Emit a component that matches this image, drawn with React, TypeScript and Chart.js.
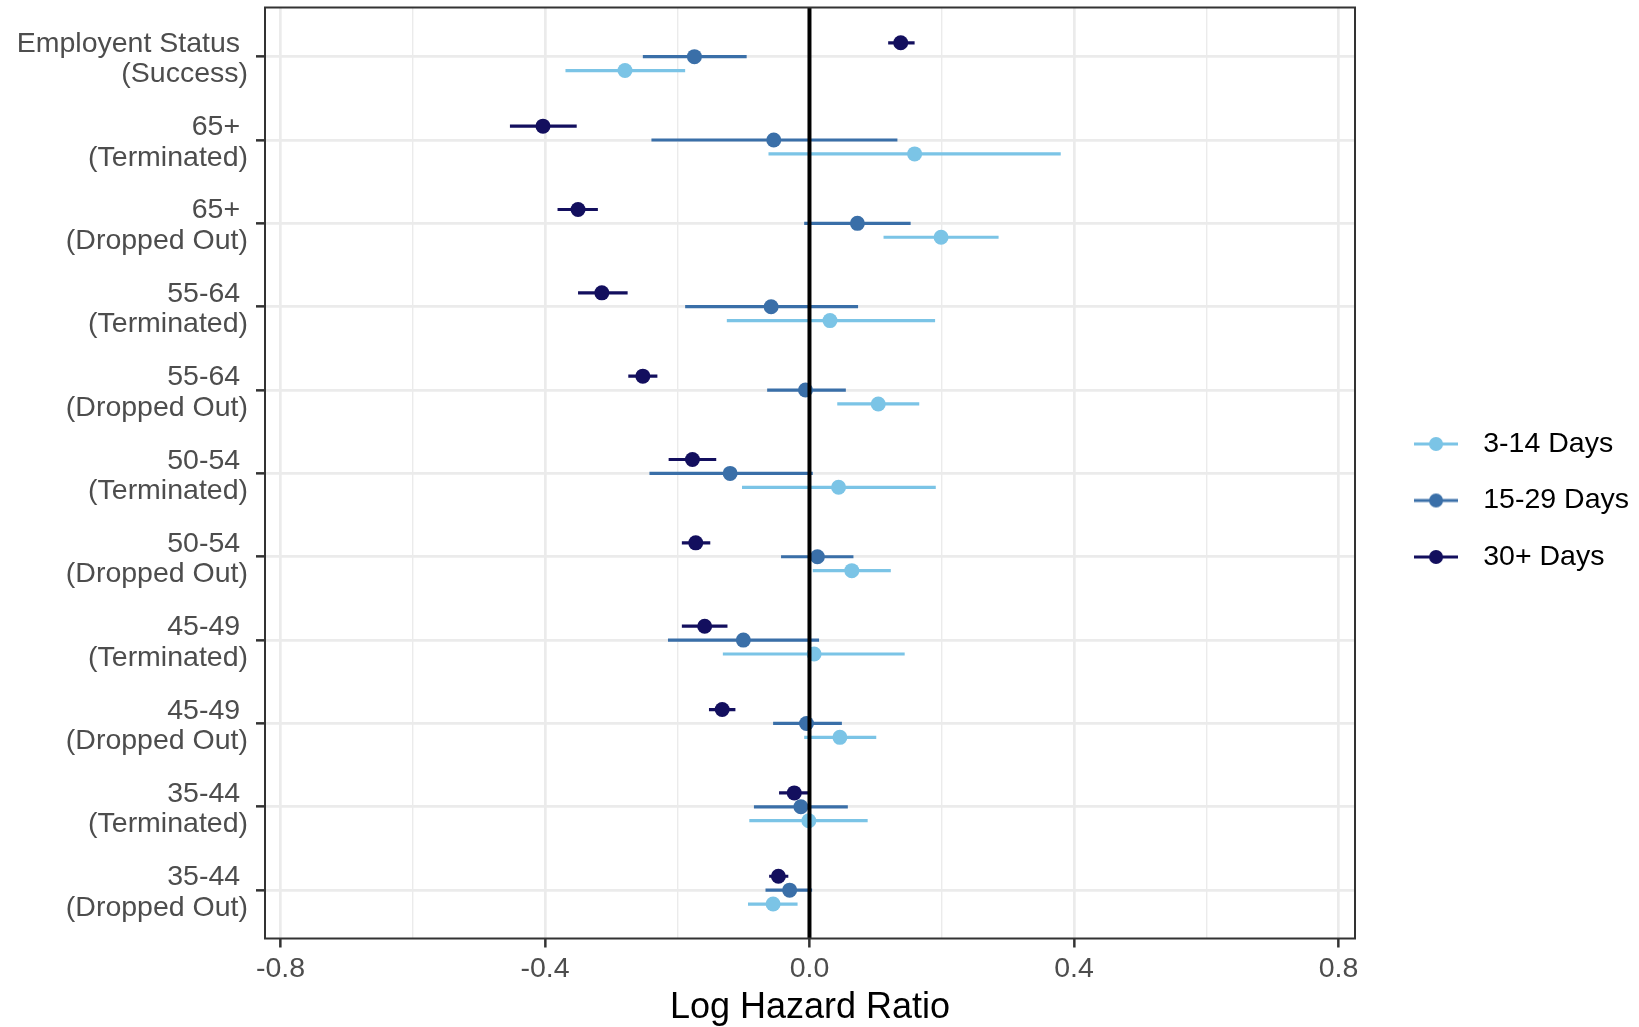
import React, { useEffect, useRef } from 'react';
import { Chart, registerables } from 'chart.js';

Chart.register(...registerables);

// ---- Data ----
const ROW_LABELS: string[][] = [
  ['Employent Status ', '(Success)'],
  ['65+ ', '(Terminated)'],
  ['65+ ', '(Dropped Out)'],
  ['55-64 ', '(Terminated)'],
  ['55-64 ', '(Dropped Out)'],
  ['50-54 ', '(Terminated)'],
  ['50-54 ', '(Dropped Out)'],
  ['45-49 ', '(Terminated)'],
  ['45-49 ', '(Dropped Out)'],
  ['35-44 ', '(Terminated)'],
  ['35-44 ', '(Dropped Out)'],
];

const SERIES_NAMES = ['3-14 Days', '15-29 Days', '30+ Days'];
const SERIES_COLORS = ['#7BC4E6', '#3A6FA8', '#130F5E'];
// vertical dodge (in row units; axis is reversed so + is lower)
const SERIES_DODGE = [0.1667, 0, -0.1667];

const EST_3_14 = [-0.279, 0.159, 0.199, 0.031, 0.104, 0.044, 0.064, 0.007, 0.046, -0.001, -0.055];
const LO_3_14 = [-0.369, -0.062, 0.112, -0.125, 0.042, -0.102, 0.005, -0.131, -0.008, -0.091, -0.093];
const HI_3_14 = [-0.188, 0.380, 0.286, 0.190, 0.166, 0.191, 0.123, 0.144, 0.101, 0.088, -0.018];

const EST_15_29 = [-0.174, -0.054, 0.0725, -0.058, -0.006, -0.120, 0.012, -0.100, -0.0045, -0.013, -0.030];
const LO_15_29 = [-0.252, -0.239, -0.008, -0.188, -0.064, -0.242, -0.043, -0.214, -0.055, -0.084, -0.0665];
const HI_15_29 = [-0.095, 0.133, 0.153, 0.0735, 0.055, 0.005, 0.0665, 0.0145, 0.049, 0.058, 0.004];

const EST_30 = [0.138, -0.403, -0.350, -0.314, -0.252, -0.177, -0.172, -0.1585, -0.132, -0.023, -0.047];
const LO_30 = [0.119, -0.453, -0.381, -0.350, -0.274, -0.213, -0.193, -0.193, -0.152, -0.046, -0.061];
const HI_30 = [0.159, -0.352, -0.320, -0.275, -0.230, -0.141, -0.150, -0.124, -0.112, 0.001, -0.032];

const X_MAJOR_TICKS = [-0.8, -0.4, 0, 0.4, 0.8];
const X_TICK_LABELS = ['-0.8', '-0.4', '0.0', '0.4', '0.8'];
const X_MINOR_TICKS = [-0.6, -0.2, 0.2, 0.6];
const X_MIN = -0.8234;
const X_MAX = 0.825;
const Y_MIN = -0.59;
const Y_MAX = 10.58;
const REF_X = 0;
const X_TITLE = 'Log Hazard Ratio';

const FONT = 'Liberation Sans';

function isMajor(v: number) {
  return X_MAJOR_TICKS.some((t) => Math.abs(t - v) < 1e-9);
}

function legendIcon(color: string) {
  const c = document.createElement('canvas');
  c.width = 44;
  c.height = 16;
  const g = c.getContext('2d')!;
  g.strokeStyle = color;
  g.lineWidth = 3.2;
  g.beginPath();
  g.moveTo(0, 8);
  g.lineTo(44, 8);
  g.stroke();
  g.fillStyle = color;
  g.beginPath();
  g.arc(22, 8, 7, 0, Math.PI * 2);
  g.fill();
  return c;
}

const panelBorder = {
  id: 'panelBorder',
  afterDatasetsDraw(chart: any) {
    const { ctx, chartArea } = chart;
    ctx.save();
    ctx.strokeStyle = '#333333';
    ctx.lineWidth = 2;
    ctx.strokeRect(chartArea.left, chartArea.top, chartArea.right - chartArea.left, chartArea.bottom - chartArea.top);
    ctx.restore();
  },
};

export default function App() {
  const ref = useRef<HTMLCanvasElement>(null);

  useEffect(() => {
    document.body.style.margin = '0';
    const est = [EST_3_14, EST_15_29, EST_30];
    const lo = [LO_3_14, LO_15_29, LO_30];
    const hi = [HI_3_14, HI_15_29, HI_30];

    const errDatasets = SERIES_NAMES.map((name, s) => {
      const data: any[] = [];
      ROW_LABELS.forEach((_, i) => {
        const y = i + SERIES_DODGE[s];
        data.push({ x: lo[s][i], y });
        data.push({ x: hi[s][i], y });
        data.push({ x: null, y: null });
      });
      return {
        type: 'line' as const,
        label: name + ' CI',
        data,
        borderColor: SERIES_COLORS[s],
        borderWidth: 3.2,
        borderCapStyle: 'butt',
        pointRadius: 0,
        pointHoverRadius: 0,
        spanGaps: false,
        tension: 0,
        fill: false,
        order: 2,
      };
    });

    // points: 30+ on top, then 15-29, then 3-14
    const pointDatasets = [2, 1, 0].map((s) => ({
      type: 'scatter' as const,
      label: SERIES_NAMES[s],
      data: ROW_LABELS.map((_, i) => ({ x: est[s][i], y: i + SERIES_DODGE[s] })),
      backgroundColor: SERIES_COLORS[s],
      borderColor: SERIES_COLORS[s],
      pointRadius: 7.5,
      pointHoverRadius: 7.5,
      pointBorderWidth: 0,
      order: 1,
    }));

    const refLine = {
      type: 'line' as const,
      label: 'ref',
      data: [
        { x: REF_X, y: Y_MIN },
        { x: REF_X, y: Y_MAX },
      ],
      borderColor: '#000000',
      borderWidth: 4,
      pointRadius: 0,
      pointHoverRadius: 0,
      order: 0,
    };

    const icons = SERIES_COLORS.map(legendIcon);

    const chart = new Chart(ref.current!, {
      type: 'scatter',
      data: { datasets: [refLine, ...pointDatasets, ...errDatasets] as any },
      plugins: [panelBorder],
      options: {
        responsive: false,
        animation: false,
        devicePixelRatio: 1,
        events: [],
        layout: { padding: { left: 0, right: 0, top: 6, bottom: 32 } },
        plugins: {
          tooltip: { enabled: false },
          legend: {
            position: 'right',
            maxWidth: 264,
            onClick: () => {},
            labels: {
              usePointStyle: true,
              pointStyleWidth: 66,
              boxHeight: 28.5,
              padding: 28,
              color: '#000000',
              font: { family: FONT, size: 28.5 },
              generateLabels: () =>
                SERIES_NAMES.map((name, i) => ({
                  text: name,
                  pointStyle: icons[i] as any,
                  fillStyle: SERIES_COLORS[i],
                  strokeStyle: SERIES_COLORS[i],
                  lineWidth: 0,
                  hidden: false,
                  fontColor: '#000000',
                  datasetIndex: 1 + (2 - i),
                })),
            },
          },
        },
        scales: {
          x: {
            type: 'linear',
            position: 'bottom',
            min: X_MIN,
            max: X_MAX,
            afterBuildTicks: (scale: any) => {
              scale.ticks = [...X_MAJOR_TICKS, ...X_MINOR_TICKS].sort((a, b) => a - b).map((v) => ({ value: v }));
            },
            afterFit: (scale: any) => {
              scale.height = 56.5;
              scale.paddingLeft = 0;
              scale.paddingRight = 0;
            },
            grid: {
              color: '#EBEBEB',
              lineWidth: (ctx: any) => (ctx.tick && isMajor(ctx.tick.value) ? 2.7 : 1.4),
              tickColor: (ctx: any) => (ctx.tick && isMajor(ctx.tick.value) ? '#333333' : 'rgba(0,0,0,0)'),
              tickWidth: 2.5,
              tickLength: 9,
              drawTicks: true,
            },
            border: { display: false },
            ticks: {
              autoSkip: false,
              maxRotation: 0,
              minRotation: 0,
              padding: 5,
              color: '#4D4D4D',
              font: { family: FONT, size: 28.5 },
              callback: (value: any) => {
                const idx = X_MAJOR_TICKS.findIndex((t) => Math.abs(t - Number(value)) < 1e-9);
                return idx >= 0 ? X_TICK_LABELS[idx] : '';
              },
            },
            title: {
              display: true,
              text: X_TITLE,
              color: '#000000',
              font: { family: FONT, size: 36, lineHeight: 1 },
              padding: { top: 0, bottom: -31 },
            },
          },
          y: {
            type: 'linear',
            position: 'left',
            reverse: true,
            min: Y_MIN,
            max: Y_MAX,
            afterBuildTicks: (scale: any) => {
              scale.ticks = ROW_LABELS.map((_, i) => ({ value: i }));
            },
            afterFit: (scale: any) => {
              scale.width = 265;
              scale.paddingTop = 0;
              scale.paddingBottom = 0;
            },
            grid: {
              color: '#EBEBEB',
              lineWidth: 2.7,
              tickColor: '#333333',
              tickWidth: 2.5,
              tickLength: 9,
            },
            border: { display: false },
            ticks: {
              autoSkip: false,
              padding: 8,
              labelOffset: 2.5,
              color: '#4D4D4D',
              font: { family: FONT, size: 28.5, lineHeight: 30.5 / 28.5 },
              callback: (value: any) => ROW_LABELS[Number(value)] ?? '',
            },
          },
          pad: {
            type: 'linear',
            position: 'right',
            display: true,
            grid: { display: false, drawTicks: false },
            border: { display: false },
            ticks: { display: false },
            afterFit: (scale: any) => {
              scale.width = 20;
              scale.paddingTop = 0;
              scale.paddingBottom = 0;
            },
          },
        },
      } as any,
    });

    return () => chart.destroy();
  }, []);

  return (
    <div style={{ position: 'relative', width: 1639, height: 1027, overflow: 'hidden', background: '#ffffff' }}>
      <canvas ref={ref} width={1639} height={1027} style={{ display: 'block' }} />
    </div>
  );
}
